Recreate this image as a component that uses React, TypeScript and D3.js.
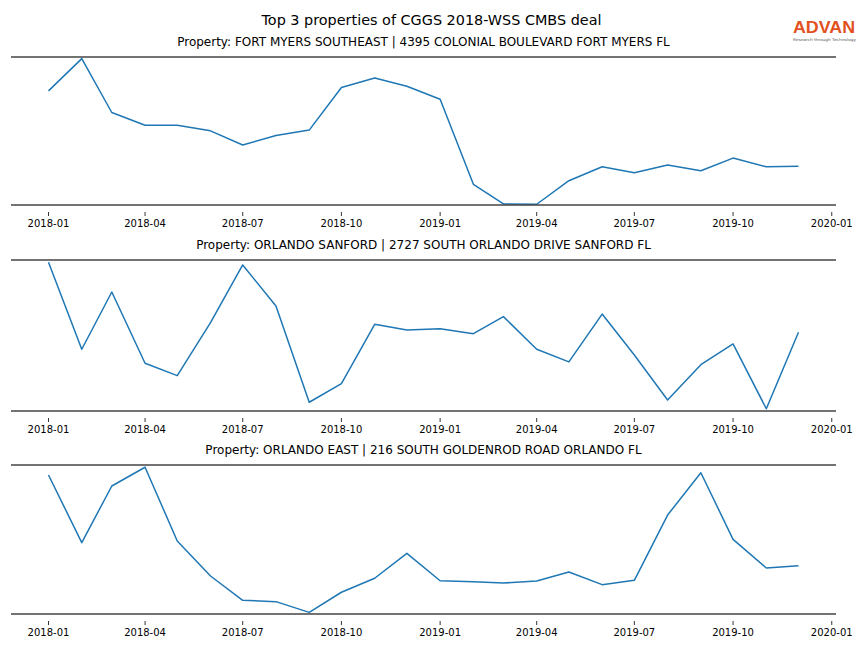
import React from "react";
import * as d3 from "d3";

const months: string[] = [
  "2018-01", "2018-02", "2018-03", "2018-04", "2018-05", "2018-06",
  "2018-07", "2018-08", "2018-09", "2018-10", "2018-11", "2018-12",
  "2019-01", "2019-02", "2019-03", "2019-04", "2019-05", "2019-06",
  "2019-07", "2019-08", "2019-09", "2019-10", "2019-11", "2019-12",
];

const fortMyers: number[] = [
  77.1, 98.9, 62.5, 53.9, 53.9, 50.1, 40.5, 47.0, 50.6, 79.4, 85.8, 80.2,
  71.5, 14.0, 0.7, 0.5, 16.4, 25.8, 21.8, 27.0, 23.1, 31.7, 25.8, 26.1,
];
const orlandoSanford: number[] = [
  98.5, 40.9, 78.8, 31.6, 23.4, 58.5, 96.7, 69.5, 5.8, 18.1, 57.4, 53.6,
  54.5, 51.2, 62.5, 40.9, 32.5, 64.2, 37.1, 7.3, 30.7, 44.4, 1.5, 52.1,
];
const orlandoEast: number[] = [
  93.3, 47.9, 85.9, 98.5, 49.0, 25.5, 9.2, 8.3, 1.1, 14.6, 24.0, 40.7,
  22.3, 21.7, 20.8, 22.1, 28.2, 19.7, 22.6, 66.4, 94.8, 50.1, 30.9, 32.4,
];

const tickLabels: string[] = [
  "2018-01", "2018-04", "2018-07", "2018-10", "2019-01",
  "2019-04", "2019-07", "2019-10", "2020-01",
];

const mainTitle = "Top 3 properties of CGGS 2018-WSS CMBS deal";
const panelTitles: string[] = [
  "Property: FORT MYERS SOUTHEAST | 4395 COLONIAL BOULEVARD FORT MYERS FL",
  "Property: ORLANDO SANFORD | 2727 SOUTH ORLANDO DRIVE SANFORD FL",
  "Property: ORLANDO EAST | 216 SOUTH GOLDENROD ROAD ORLANDO FL",
];
const panelSeries: number[][] = [fortMyers, orlandoSanford, orlandoEast];

const W = 864;
const H = 648;
const FONT = "DejaVu Sans, sans-serif";

const panels = [
  { top: 57, bottom: 205 },
  { top: 260, bottom: 411 },
  { top: 465, bottom: 614 },
];

const parse = d3.timeParse("%Y-%m");

export default function App() {
  const dates = months.map((m) => parse(m) as Date);
  const first = dates[0].getTime();
  const last = dates[dates.length - 1].getTime();
  const pad = (last - first) * 0.05;
  const x = d3
    .scaleTime()
    .domain([new Date(first - pad), new Date(last + pad)])
    .range([11, 836]);

  return (
    <svg
      width={W}
      height={H}
      style={{ position: "absolute", left: 0, top: 0, background: "#fff" }}
      fontFamily={FONT}
    >
      <text x={431.5} y={24.5} textAnchor="middle" fontSize={14.4} fill="#000">
        {mainTitle}
      </text>
      <g>
        <text x={793} y={33} fontSize={16} fontWeight="bold" fill="#e2521f" fontFamily="Liberation Sans, Arial, sans-serif" textLength={62} lengthAdjust="spacingAndGlyphs">
          ADVAN
        </text>
        <text x={793} y={40.5} fontSize={3.8} fill="#555" textLength={63} lengthAdjust="spacingAndGlyphs">
          Research through Technology
        </text>
      </g>
      {panels.map((p, i) => {
        const vals = panelSeries[i];
        const y = d3.scaleLinear().domain([0, 100]).range([p.bottom, p.top]);
        const line = d3
          .line<number>()
          .x((_, j) => x(dates[j]))
          .y((v) => y(v));
        return (
          <g key={i}>
            <text
              x={423.5}
              y={p.top - 11}
              textAnchor="middle"
              fontSize={12}
              fill="#000"
            >
              {panelTitles[i]}
            </text>
            <path d={line(vals) || ""} fill="none" stroke="#1f77b4" strokeWidth={1.5} strokeLinejoin="round" />
            <line x1={11} x2={836} y1={p.top} y2={p.top} stroke="#444" strokeWidth={1.6} />
            <line x1={11} x2={836} y1={p.bottom} y2={p.bottom} stroke="#444" strokeWidth={1.6} />
            {tickLabels.map((t) => {
              const tx = x(parse(t) as Date);
              return (
                <g key={t}>
                  <line x1={tx} x2={tx} y1={p.bottom + 7} y2={p.bottom + 11} stroke="#000" strokeWidth={0.8} />
                  <text x={tx} y={p.bottom + 21.5} textAnchor="middle" fontSize={10} fill="#000">
                    {t}
                  </text>
                </g>
              );
            })}
          </g>
        );
      })}
    </svg>
  );
}
